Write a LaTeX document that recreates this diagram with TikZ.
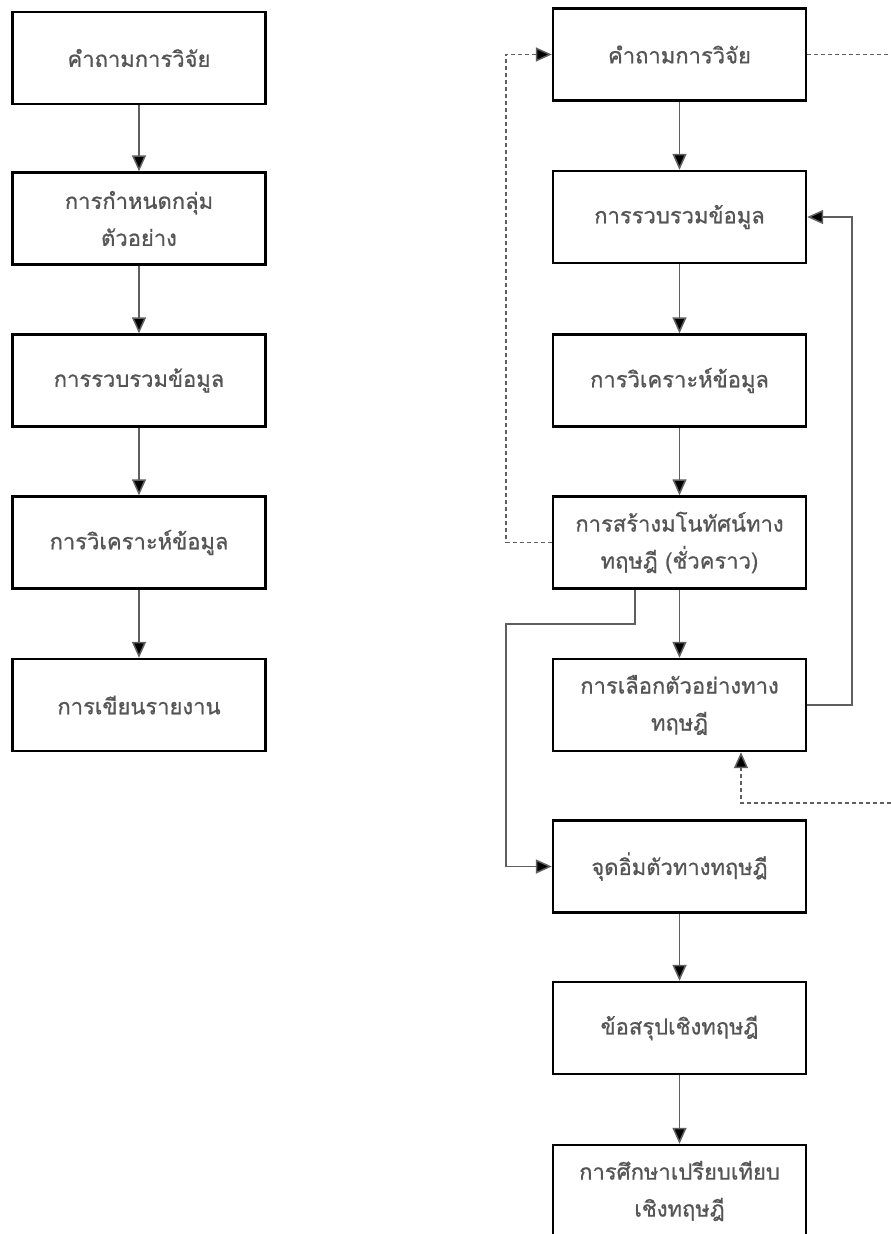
\documentclass[tikz,border=0pt]{standalone}
\usepackage{fontspec}
\newfontfamily\thaifont[Script=Thai,FakeBold=0.8]{Loma}
\usetikzlibrary{arrows.meta,calc}
\definecolor{txtgray}{RGB}{85,85,85}
\definecolor{linegray}{RGB}{95,95,95}
\tikzset{
  box/.style={draw=black, line width=2.4pt, minimum width=253pt, minimum height=92pt,
    inner sep=0pt, align=center, font=\thaifont\fontsize{22}{37}\selectfont, text=txtgray},
  conn/.style={draw=linegray, line width=1.5pt, -{Triangle[length=16pt,width=14pt,fill=black]}},
  plain/.style={draw=linegray, line width=1.5pt},
  dconn/.style={draw=linegray, line width=1.5pt, dash pattern=on 4pt off 3pt, -{Triangle[length=16pt,width=14pt,fill=black]}},
  dplain/.style={draw=linegray, line width=1.5pt, dash pattern=on 4pt off 3pt}
}
\begin{document}
\begin{tikzpicture}[x=1pt,y=-1pt]
\useasboundingbox (0,0) rectangle (891,1234);
\clip (0,0) rectangle (891,1234);
\fill[white] (0,0) rectangle (891,1234);
% left column
\node[box] (L1) at (139,58) {คำถามการวิจัย};
\node[box] (L2) at (139,218.5) {การกำหนดกลุ่ม\\ตัวอย่าง};
\node[box] (L3) at (139,380.5) {การรวบรวมข้อมูล};
\node[box] (L4) at (139,542.5) {การวิเคราะห์ข้อมูล};
\node[box] (L5) at (139,705) {การเขียนรายงาน};
\draw[conn] (L1) -- (L2);
\draw[conn] (L2) -- (L3);
\draw[conn] (L3) -- (L4);
\draw[conn] (L4) -- (L5);
% right column
\node[box] (R1) at (679.5,54.5) {คำถามการวิจัย};
\node[box] (R2) at (679.5,217) {การรวบรวมข้อมูล};
\node[box] (R3) at (679.5,380.5) {การวิเคราะห์ข้อมูล};
\node[box] (R4) at (679.5,542.5) {การสร้างมโนทัศน์ทาง\\ทฤษฎี (ชั่วคราว)};
\node[box] (R5) at (679.5,705) {การเลือกตัวอย่างทาง\\ทฤษฎี};
\node[box] (R6) at (679.5,866.5) {จุดอิ่มตัวทางทฤษฎี};
\node[box] (R7) at (679.5,1028) {ข้อสรุปเชิงทฤษฎี};
\node[box] (R8) at (679.5,1191) {การศึกษาเปรียบเทียบ\\เชิงทฤษฎี};
\draw[conn] (R1) -- (R2);
\draw[conn] (R2) -- (R3);
\draw[conn] (R3) -- (R4);
\draw[conn] (R4) -- (R5);
\draw[conn] (R6) -- (R7);
\draw[conn] (R7) -- (R8);
% feedback loops
\coordinate (dl) at (506,0);
\draw[dconn] (R4.west) -- (R4.west -| dl) -- (R1.west -| dl) -- (R1.west);
\coordinate (edgeR) at (891,0);
\draw[dplain] (R1.east) -- (R1.east -| edgeR);
\coordinate (dIn) at (891,803);
\coordinate (dCorner) at (741,803);
\draw[dconn] (dIn) -- (dCorner) -- (dCorner |- R5.south);
\coordinate (sr) at (852,0);
\draw[conn] (R5.east) -- (R5.east -| sr) -- (R2.east -| sr) -- (R2.east);
\coordinate (sA) at (635,624);
\coordinate (sB) at (506,624);
\draw[conn] (sA |- R4.south) -- (sA) -- (sB) -- (sB |- R6.west) -- (R6.west);
\end{tikzpicture}
\end{document}
